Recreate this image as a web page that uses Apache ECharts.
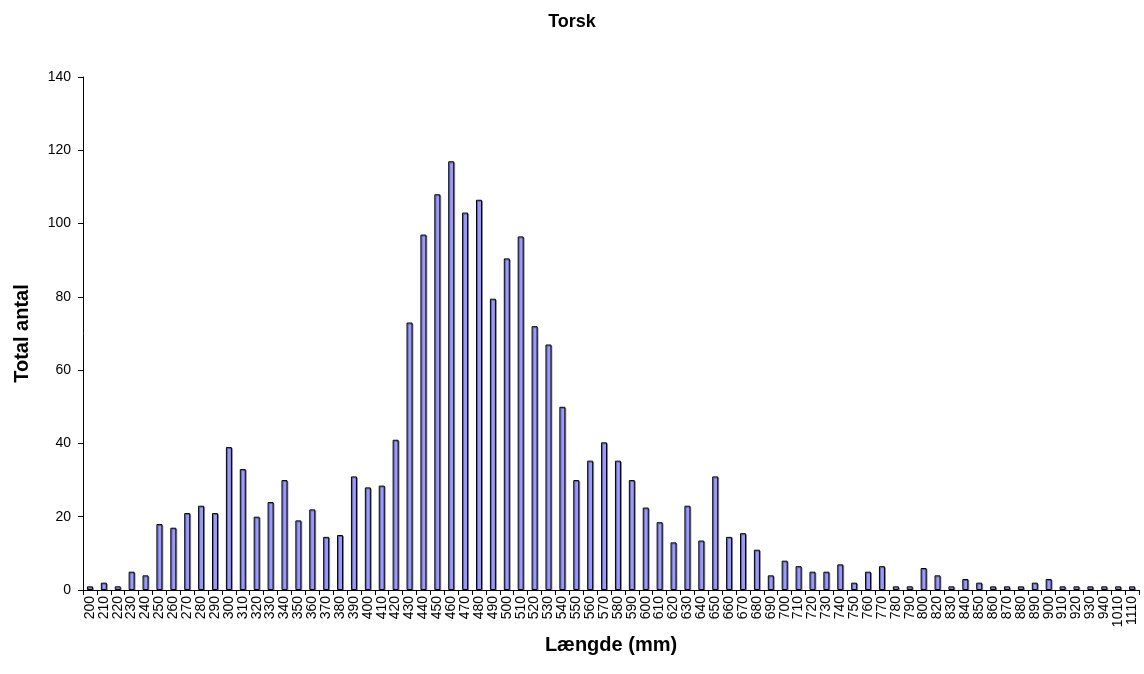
<!DOCTYPE html>
<html>
<head>
<meta charset="utf-8">
<script src="https://cdn.jsdelivr.net/npm/echarts@6/dist/echarts.min.js"></script>
<style>html,body{margin:0;padding:0;background:#fff}#c{width:1144px;height:674px}</style>
</head>
<body>
<div id="c"></div>
<script>
const categories = ['200','210','220','230','240','250','260','270','280','290','300','310','320','330','340','350','360','370','380','390','400','410','420','430','440','450','460','470','480','490','500','510','520','530','540','550','560','570','580','590','600','610','620','630','640','650','660','670','680','690','700','710','720','730','740','750','760','770','780','790','800','820','830','840','850','860','870','880','890','900','910','920','930','940','1010','1110'];
const totals = [1,2,1,5,4,18,17,21,23,21,39,33,20,24,30,19,22,14.5,15,31,28,28.5,41,73,97,108,117,103,106.5,79.5,90.5,96.5,72,67,50,30,35.3,40.3,35.3,30,22.5,18.5,13,23,13.5,31,14.5,15.5,11,4,8,6.5,5,5,7,2,5,6.5,1,1,6,4,1,3,2,1,1,1,2,3,1,1,1,1,1,1];
const yTicks = [0,20,40,60,80,100,120,140];

const chart = echarts.init(document.getElementById('c'));
const font = 'Arial, "Liberation Sans", sans-serif';
chart.setOption({
  animation: false,
  title: {
    text: 'Torsk', left: 'center', top: 8,
    textStyle: {fontFamily: font, fontSize: 18, fontWeight: 'bold', color: '#000'}
  },
  grid: {left: 83, right: 5, top: 77, bottom: 84},
  xAxis: {
    type: 'category', data: categories,
    name: 'Længde (mm)', nameLocation: 'middle', nameGap: 35,
    nameTextStyle: {fontFamily: font, fontSize: 20, fontWeight: 'bold', color: '#000'},
    axisLine: {lineStyle: {color: '#000', width: 1}},
    axisTick: {show: true, alignWithLabel: false, length: 5, lineStyle: {color: '#000'}},
    axisLabel: {rotate: 90, interval: 0, fontFamily: font, fontSize: 14, color: '#000', margin: 6}
  },
  yAxis: {
    type: 'value', min: 0, max: 140, interval: 20,
    name: 'Total antal', nameLocation: 'middle', nameGap: 51,
    nameTextStyle: {fontFamily: font, fontSize: 20, fontWeight: 'bold', color: '#000'},
    axisLine: {show: true, lineStyle: {color: '#000', width: 1}},
    axisTick: {show: true, length: 5, lineStyle: {color: '#000'}},
    axisLabel: {fontFamily: font, fontSize: 14, color: '#000', margin: 12,
      formatter: v => yTicks.includes(v) ? String(v) : ''},
    splitLine: {show: false}
  },
  series: [{
    type: 'bar', data: totals, barWidth: 6,
    itemStyle: {color: '#9999FF', borderColor: '#000', borderWidth: 1,
      shadowColor: 'rgba(0,0,0,0.35)', shadowOffsetX: 1, shadowOffsetY: 1, shadowBlur: 0}
  }]
});
</script>
</body>
</html>
